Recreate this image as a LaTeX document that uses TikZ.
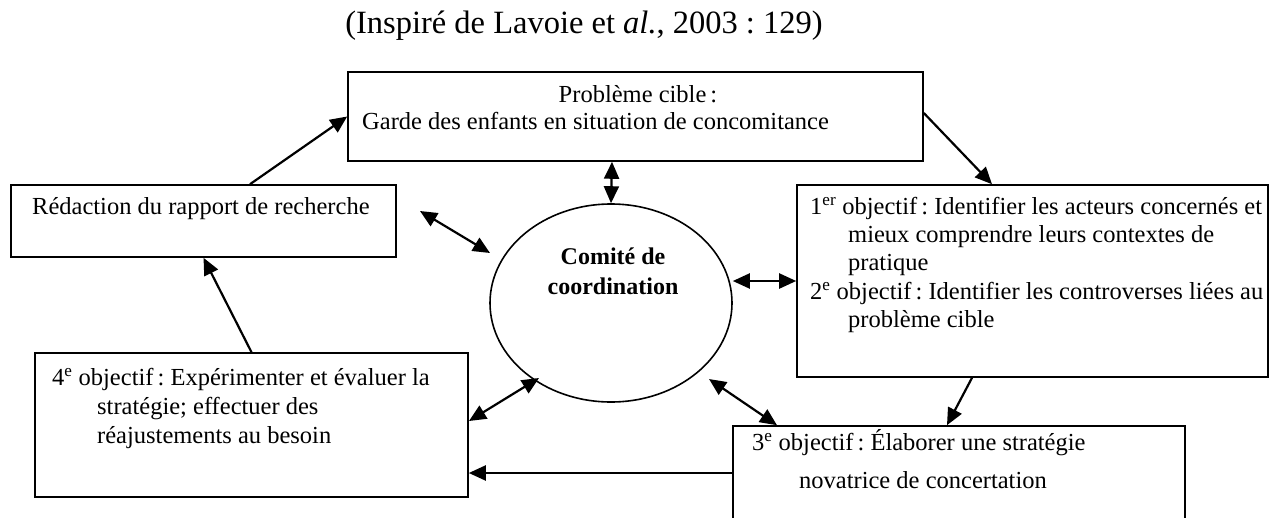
\documentclass[tikz,border=0pt]{standalone}
\usepackage{fontspec}
\setmainfont{Liberation Serif}
\usetikzlibrary{arrows.meta,shapes.geometric}
\frenchspacing
\begin{document}
\begin{tikzpicture}[x=1pt,y=-1pt,
  box/.style={draw, line width=1.6pt, rectangle, inner sep=0pt},
  txt/.style={anchor=mid west, inner sep=0pt, font=\fontsize{24.5}{28}\selectfont},
  ctxt/.style={anchor=mid, inner sep=0pt, font=\fontsize{24.5}{28}\selectfont},
  arr/.style={line width=2.2pt, -{Triangle[length=17pt,width=15pt]}},
  darr/.style={line width=2.2pt, {Triangle[length=17pt,width=15pt]}-{Triangle[length=17pt,width=15pt]}},
]
\useasboundingbox (0,0) rectangle (1272,517);
\clip (0,0) rectangle (1272,517);

% title
\node[ctxt, font=\fontsize{32.5}{36}\selectfont] (title) at (584,31) {(Inspiré de Lavoie et \textit{al.}, 2003 : 129)};

% boxes
\node[box, minimum width=575pt, minimum height=89pt] (b1) at (635.5,116.5) {};
\node[box, minimum width=385pt, minimum height=72pt] (br) at (203.5,221) {};
\node[box, minimum width=471pt, minimum height=192pt] (b2) at (1032.5,281) {};
\node[box, minimum width=433pt, minimum height=144pt] (b4) at (251.5,425) {};
\node[box, minimum width=452pt, minimum height=130pt] (b3) at (959,491) {};
\node[draw, line width=1.6pt, ellipse, minimum width=242pt, minimum height=198pt, inner sep=0pt] (ec) at (611,303) {};

% texts
\node[ctxt] (t1a) at (638,100) {Problème cible\,:};
\node[txt] (t1b) at (362,127) {Garde des enfants en situation de concomitance};
\node[txt] (tr) at (32,212) {Rédaction du rapport de recherche};
\node[ctxt, font=\fontsize{24}{28}\selectfont\bfseries] (te1) at (613,262) {Comité de};
\node[ctxt, font=\fontsize{24}{28}\selectfont\bfseries] (te2) at (613,292) {coordination};
\node[txt] (t2a) at (810,212) {1\textsuperscript{er} objectif\,: Identifier les acteurs concernés et};
\node[txt] (t2b) at (848,240) {mieux comprendre leurs contextes de};
\node[txt] (t2c) at (848,268) {pratique};
\node[txt] (t2d) at (810,297) {2\textsuperscript{e} objectif\,: Identifier les controverses liées au};
\node[txt] (t2e) at (848,325) {problème cible};
\node[txt] (t4a) at (52,383) {4\textsuperscript{e} objectif\,: Expérimenter et évaluer la};
\node[txt] (t4b) at (97,412) {stratégie; effectuer des};
\node[txt] (t4c) at (97,441) {réajustements au besoin};
\node[txt] (t3a) at (752,448) {3\textsuperscript{e} objectif\,: Élaborer une stratégie};
\node[txt] (t3b) at (799,486) {novatrice de concertation};

% free ends
\coordinate (pr) at (420,211);
\coordinate (pe) at (490,253);
\coordinate (p4) at (469,421);
\coordinate (pe4) at (539,378);
\coordinate (pe3) at (709,379);
\coordinate (a9) at ([yshift=18pt]b3.west);

% connectors
\draw[arr] ([xshift=46.5pt]br.north) -- (b1.west);
\draw[arr] ([yshift=3.5pt]b1.east) -- ([xshift=-40.5pt]b2.north);
\draw[darr] ([xshift=-23.5pt]b1.south) -- (ec.north);
\draw[darr] (pr) -- (pe);
\draw[darr] (ec.east |- b2.west) -- (b2.west);
\draw[darr] (pe4) -- (p4);
\draw[darr] (pe3) -- ([xshift=-182pt]b3.north);
\draw[arr] ([xshift=-60.5pt]b2.south) -- ([xshift=-12pt]b3.north);
\draw[arr] (a9) -- (b4.east |- a9);
\draw[arr] (b4.north) -- (br.south);
\end{tikzpicture}
\end{document}
